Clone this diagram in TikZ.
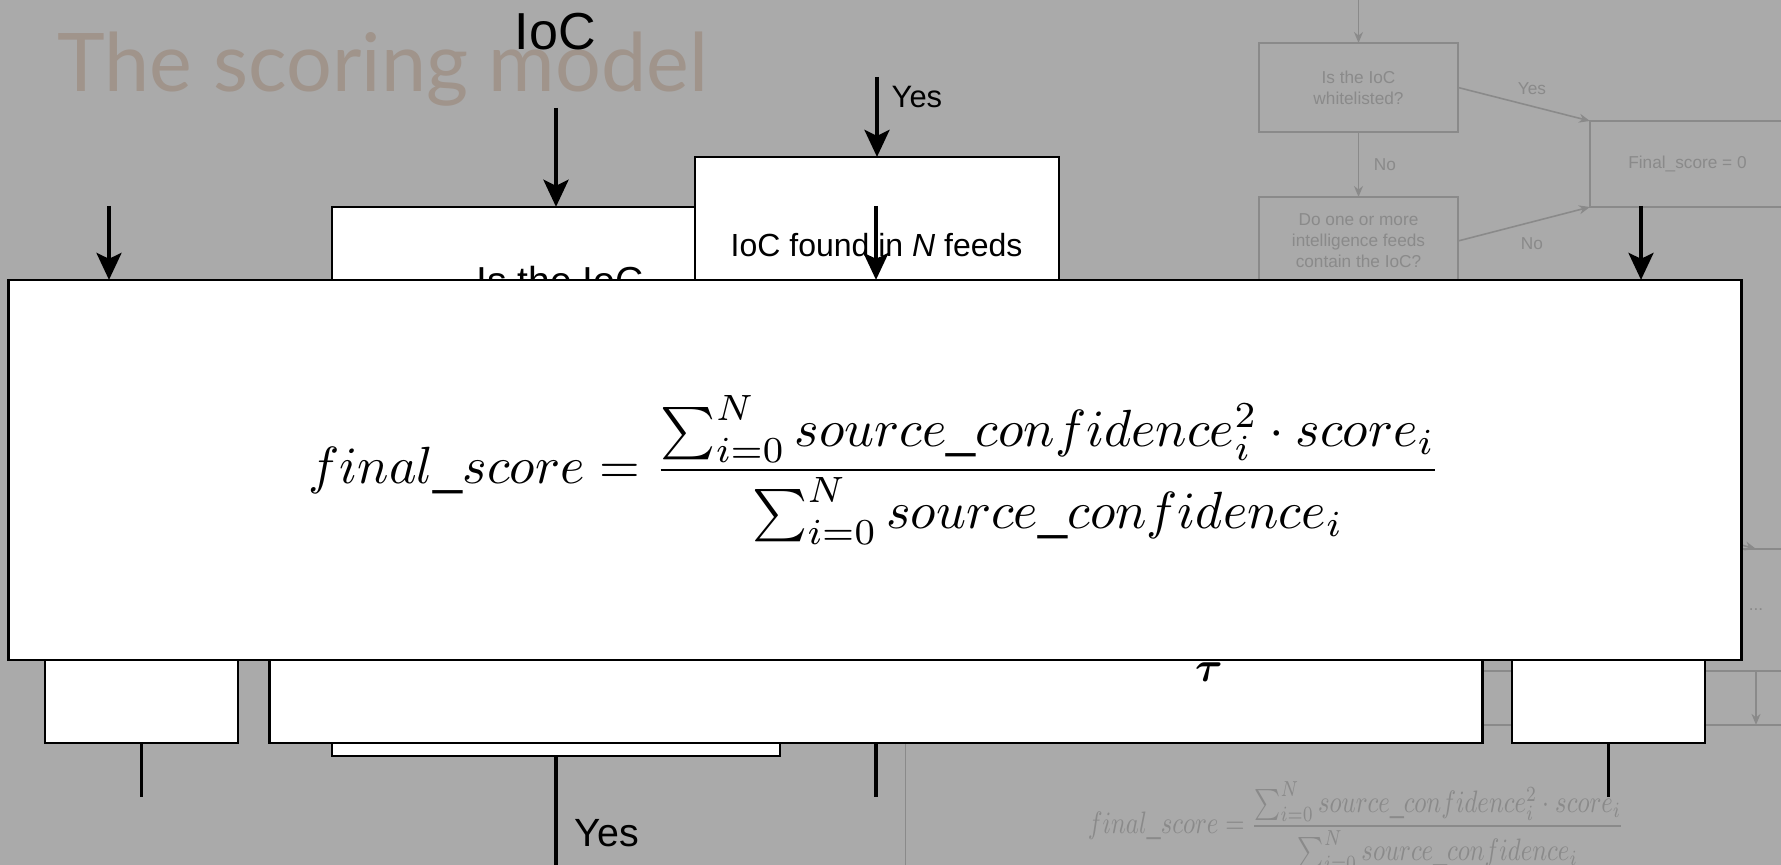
\documentclass[tikz,border=0pt]{standalone}
\usepackage{fontspec}
\setmainfont{Liberation Sans}
\newfontfamily\titlefont{Lato}
\usepackage{graphicx}
\usepackage{bm}
\usetikzlibrary{arrows.meta}
\definecolor{slidebg}{RGB}{170,170,170}
\definecolor{fadegray}{RGB}{138,138,138}
\definecolor{titlegray}{RGB}{160,148,139}
\newcommand{\scoreformula}{\displaystyle final\_score=\frac{\sum_{i=0}^{N} source\_confidence_{i}^{2}\cdot score_{i}}{\sum_{i=0}^{N} source\_confidence_{i}}}
\tikzset{
  box/.style={draw, fill=white, line width=0.7pt, inner sep=0pt, outer sep=0pt},
  fadebox/.style={draw=fadegray, text=fadegray, line width=0.35pt, inner sep=0pt, outer sep=0pt, align=center, font=\fontsize{4.9}{6}\selectfont},
  fadelabel/.style={text=fadegray, font=\fontsize{4.9}{6}\selectfont},
  flow/.style={-{Stealth[length=0.27cm,width=0.25cm,inset=0.06cm]}, line width=1.1pt},
  stub/.style={line width=1.1pt},
  fadeflow/.style={-{Stealth[length=0.11cm,width=0.09cm]}, draw=fadegray, line width=0.45pt},
}
\begin{document}
\begin{tikzpicture}[x=0.01cm,y=-0.01cm]
\useasboundingbox (0,0) rectangle (1781,865);
\fill [slidebg] (0,0) rectangle (1781,865);
\clip (0,0) rectangle (1781,865);
\node (title) [anchor=base west, inner sep=0pt, text=titlegray, font=\titlefont\fontsize{23}{27}\selectfont] at (57,92) {The scoring model};

\node (f_white) [fadebox, minimum width=1.99cm, minimum height=0.89cm] at (1358.5,87.5) {Is the IoC\\whitelisted?};
\node (f_feeds) [fadebox, minimum width=1.99cm, minimum height=0.88cm] at (1358.5,241) {Do one or more\\intelligence feeds\\contain the IoC?};
\node (f_zero) [fadebox, minimum width=1.95cm, minimum height=0.86cm] at (1687.5,164) {Final\_score = 0};
\node (f_dots) [fadebox, minimum width=9.12cm, minimum height=1.22cm] at (1756,610) {...};
\node (f_calc) [fadebox, minimum width=9cm, minimum height=2.75cm] at (1356,862.5) {};
\node (f_formula) [text=fadegray, inner sep=0pt] at (1356,826) {\resizebox*{5.36cm}{0.88cm}{$\scoreformula$}};
\coordinate (f_top) at (1358.5,-5);
\coordinate (f_in) at (1650,520);
\draw [fadeflow] (f_top) -- (f_white);
\draw [fadeflow] (f_white) -- node [fadelabel, right=0.8pt] {No} (f_feeds);
\draw [fadeflow] (f_white.east) -- node [fadelabel, pos=0.56, above=-0.3pt] {Yes} (f_zero.north west);
\draw [fadeflow] (f_feeds.east) -- node [fadelabel, pos=0.56, below=0.9pt] {No} (f_zero.south west);
\draw [fadeflow] (f_in) -- (f_dots.north);
\draw [fadeflow] (f_dots.south) -- (f_dots.south |- f_calc.north);

\node (whitelist) [box, minimum width=4.48cm, minimum height=5.49cm] at (556,481.5) {};
\node (whitelist_txt) [anchor=base west, inner sep=0pt, font=\fontsize{11.1}{13}\selectfont] at (476,295) {Is the IoC};
\node (feeds) [box, minimum width=3.64cm, minimum height=2.43cm] at (877,278.5) {};
\node (feeds_txt) [anchor=base west, inner sep=0pt, font=\fontsize{9.1}{11}\selectfont] at (730,257) {IoC found in \textit{N} feeds};
\node (thresh) [box, minimum width=12.12cm, minimum height=1.43cm] at (876,671.5) {};
\node (tau) [anchor=base, inner sep=0pt, font=\fontsize{13}{15}\selectfont] at (1209,682) {$\bm{\tau}$};
\node (box_l) [box, minimum width=1.93cm, minimum height=1.43cm] at (141.5,671.5) {};
\node (box_r) [box, minimum width=1.93cm, minimum height=1.43cm] at (1608.5,671.5) {};
\node (ioc) [anchor=base west, inner sep=0pt, font=\fontsize{14.8}{17}\selectfont] at (514,50) {IoC};
\node (yes_top) [anchor=base west, inner sep=0pt, font=\fontsize{8.8}{10}\selectfont] at (891,108) {Yes};
\node (yes_low) [anchor=base west, inner sep=0pt, font=\fontsize{11.2}{13}\selectfont] at (574,847) {Yes};

\coordinate (ioc_in) at (556,108);
\coordinate (yes_in) at (877,77);
\draw [flow] (ioc_in) -- (whitelist.north);
\draw [flow] (yes_in) -- (feeds.north);

\node (formula) [box, minimum width=17.32cm, minimum height=3.8cm] at (875,470) {\resizebox{11.32cm}{!}{$\scoreformula$}};
\foreach \x/\n in {109/l,876/m,1641/r}
  \draw [flow] (\x,206) coordinate (in_\n) -- (in_\n |- formula.north);

\draw [stub] (box_l.south) -- ++(0,54) coordinate (out_l);
\draw [stub] (thresh.south) -- ++(0,54) coordinate (out_m);
\draw [stub] (box_r.south) -- ++(0,54) coordinate (out_r);
\draw [stub] (whitelist.south) -- ++(0,115) coordinate (out_yes);
\end{tikzpicture}
\end{document}
